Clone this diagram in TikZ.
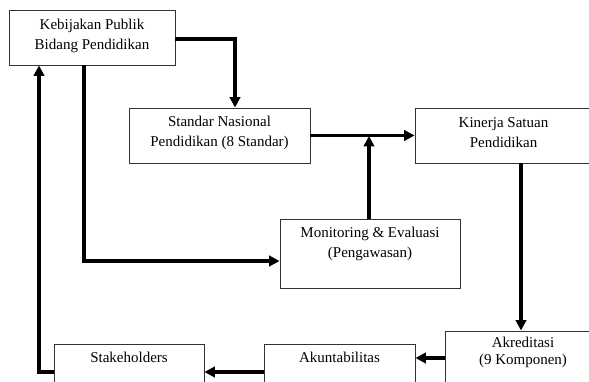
\documentclass[tikz,border=0pt]{standalone}
\usepackage{fontspec}
\setmainfont{Liberation Serif}
\usetikzlibrary{arrows.meta}
\begin{document}
\begin{tikzpicture}[x=1pt,y=-1pt,
  box/.style={draw=black!80, line width=0.9pt, rectangle, inner sep=0pt},
  txt/.style={font=\fontsize{15}{20}\selectfont, align=center, inner sep=0pt, anchor=north, yshift=-5pt},
  arr/.style={line width=3.2pt, -{Triangle[length=10.5pt,width=10.5pt]}}]
\clip (0,0) rectangle (589,382);
\node[box, minimum width=166pt, minimum height=55pt,
  label={[txt, yshift=-1pt]north:{\strut Kebijakan Publik\\\strut Bidang Pendidikan}}] (keb) at (92,37.5) {};
\node[box, minimum width=181pt, minimum height=55pt,
  label={[txt]north:{\strut Standar Nasional\\\strut Pendidikan (8 Standar)}}] (std) at (219.5,135.5) {};
\node[box, minimum width=177pt, minimum height=55pt,
  label={[txt, yshift=-1pt]north:{\strut Kinerja Satuan\\\strut Pendidikan}}] (kin) at (503.5,135.5) {};
\node[box, minimum width=180pt, minimum height=69pt,
  label={[txt]north:{\strut Monitoring \& Evaluasi\\\strut (Pengawasan)}}] (mon) at (370,253.5) {};
\node[box, minimum width=156pt, minimum height=69pt,
  label={[txt, font=\fontsize{15}{17}\selectfont]north:{\strut Akreditasi\\\strut (9 Komponen)}}] (akr) at (523,365.5) {};
\node[box, minimum width=151pt, minimum height=56pt,
  label={[txt]north:{\strut Akuntabilitas}}] (akun) at (339.5,372) {};
\node[box, minimum width=150pt, minimum height=56pt,
  label={[txt]north:{\strut Stakeholders}}] (stake) at (129,372) {};
\coordinate (j) at (369,136);
\draw[arr] (keb.east |- 0,39) -| (235,0 |- std.north);
\draw[arr] (84,0 |- keb.south) |- (mon.west |- 0,261);
\draw[arr] (std) -- (kin);
\draw[arr] (369,0 |- mon.north) -- (j);
\draw[arr] (521,0 |- kin.south) -- (521,0 |- akr.north);
\draw[arr] (akr.west |- 0,358) -- (akun.east |- 0,358);
\draw[arr] (akun.west) -- (stake.east);
\draw[arr] (stake.west) -| (39,0 |- keb.south);
\end{tikzpicture}
\end{document}
